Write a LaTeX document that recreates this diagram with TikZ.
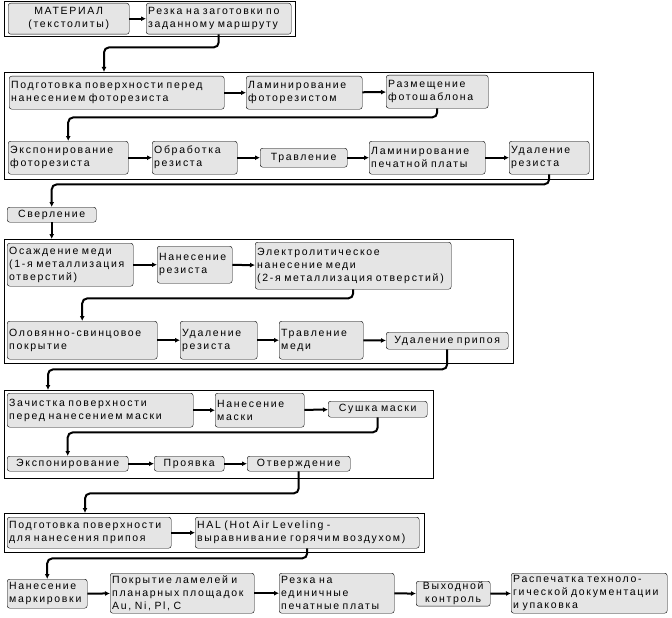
\documentclass[tikz,border=0pt]{standalone}
\usepackage{fontspec}
\setmainfont{Liberation Sans}[LetterSpace=16]
\usetikzlibrary{arrows.meta}

\begin{document}
\begin{tikzpicture}[
            x = 1pt, y = -1pt, % pixel grid, y goes down
            > = {Latex[length=5pt, width=5pt]}, % arrow head style
            font = \fontsize{10.5}{13}\selectfont,
            wh/.style 2 args = {text width = #1pt-4pt, minimum height = #2pt}
        ]

        \tikzstyle{frame}=[
            draw = black,
            thin,
            anchor = north west,
            inner sep = 0pt
        ]
        \tikzstyle{stage}=[
            draw = black,
            thin,
            fill = gray!20,
            rounded corners = 2.5pt,
            anchor = north west,
            align = left,
            inner xsep = 2pt,
            inner ysep = 1pt
        ]
        \tikzstyle{flow}=[
            line width = 2pt,
            rounded corners = 5pt
        ]

        \useasboundingbox (0,0) rectangle (672,618);

        % frames
        \node[frame, minimum width=291pt, minimum height=35pt] (f1) at (4,1) {};
        \node[frame, minimum width=589pt, minimum height=107pt] (f2) at (4,72) {};
        \node[frame, minimum width=509pt, minimum height=124pt] (f3) at (4,239) {};
        \node[frame, minimum width=429pt, minimum height=88pt] (f4) at (4,390) {};
        \node[frame, minimum width=420pt, minimum height=39pt] (f5) at (4,513) {};

        \coordinate (in2) at (104,72);
        \coordinate (in4) at (48,390);
        \coordinate (in5) at (85,513);

        % material
        \node[stage, wh={121}{31}, align=center] (mat) at (8,3) {МАТЕРИАЛ\\(текстолиты)};
        \node[stage, wh={145}{31}] (rez) at (146,3) {Резка на заготовки по\\заданному маршруту};

        % photoresist
        \node[stage, wh={215}{33}] (podg) at (9,76) {Подготовка поверхности перед\\нанесением фоторезиста};
        \node[stage, wh={116}{33}] (lam1) at (246,76) {Ламинирование\\фоторезистом};
        \node[stage, wh={102}{33}] (razm) at (386,75) {Размещение\\фотошаблона};
        \node[stage, wh={120}{33}] (exp1) at (8,141) {Экспонирование\\фоторезиста};
        \node[stage, wh={85}{33}] (obr) at (152,141) {Обработка\\резиста};
        \node[stage, wh={87}{19}, align=center] (trav1) at (260,148) {Травление};
        \node[stage, wh={116}{33}] (lam2) at (369,141) {Ламинирование\\печатной платы};
        \node[stage, wh={80}{33}] (ud1) at (509,141) {Удаление\\резиста};

        \node[stage, wh={89}{15}, align=center] (sverl) at (7,207) {Сверление};

        % metallization
        \node[stage, wh={126}{43}] (osazh) at (7,243) {Осаждение меди\\(1-я металлизация\\отверстий)};
        \node[stage, wh={75}{37}] (nan1) at (157,246) {Нанесение\\резиста};
        \node[stage, wh={196}{47}] (elek) at (255,242) {Электролитическое\\нанесение меди\\(2-я металлизация отверстий)};
        \node[stage, wh={150}{38}] (olov) at (7,321) {Оловянно-свинцовое\\покрытие};
        \node[stage, wh={77}{38}] (ud2) at (180,321) {Удаление\\резиста};
        \node[stage, wh={84}{38}] (trav2) at (279,321) {Травление\\меди};
        \node[stage, wh={122}{17}, align=center] (udpr) at (386,332) {Удаление припоя};

        % solder mask
        \node[stage, wh={186}{34}] (zach) at (7,393) {Зачистка поверхности\\перед нанесением маски};
        \node[stage, wh={89}{34}] (nan2) at (215,393) {Нанесение\\маски};
        \node[stage, wh={99}{16}, align=center] (sush) at (328,401) {Сушка маски};
        \node[stage, wh={121}{15}, align=center] (exp2) at (7,456) {Экспонирование};
        \node[stage, wh={70}{15}, align=center] (proyav) at (154,456) {Проявка};
        \node[stage, wh={103}{15}, align=center] (otv) at (247,456) {Отверждение};

        % solder
        \node[stage, wh={164}{31}] (podg2) at (7,517) {Подготовка поверхности\\для нанесения припоя};
        \node[stage, wh={224}{31}] (hal) at (195,517) {HAL (Hot Air Leveling -\\выравнивание горячим воздухом)};

        % final
        \node[stage, wh={80}{29}] (nanm) at (7,579) {Нанесение\\маркировки};
        \node[stage, wh={144}{40}] (pokr) at (110,573) {Покрытие ламелей и\\планарных площадок\\Au, Ni, Pl, C};
        \node[stage, wh={115}{40}] (rez2) at (279,573) {Резка на\\единичные\\печатные платы};
        \node[stage, wh={74}{23}, align=center] (vyh) at (416,581) {Выходной\\контроль};
        \node[stage, wh={156}{40}] (rasp) at (511,573) {Распечатка техноло-\\гической документации\\и упаковка};

        \path[->, flow] (mat) edge (rez);
        \path[->, flow] (podg) edge (lam1);
        \path[->, flow] (lam1) edge (razm);
        \path[->, flow] (exp1) edge (obr);
        \path[->, flow] (obr) edge (trav1);
        \path[->, flow] (trav1) edge (lam2);
        \path[->, flow] (lam2) edge (ud1);
        \path[->, flow] (osazh) edge (nan1);
        \path[->, flow] (nan1) edge (elek);
        \path[->, flow] (olov) edge (ud2);
        \path[->, flow] (ud2) edge (trav2);
        \path[->, flow] (trav2) edge (udpr);
        \path[->, flow] (zach) edge (nan2);
        \path[->, flow] (nan2) edge (sush);
        \path[->, flow] (exp2) edge (proyav);
        \path[->, flow] (proyav) edge (otv);
        \path[->, flow] (podg2) edge (hal);
        \path[->, flow] (nanm) edge (pokr);
        \path[->, flow] (pokr) edge (rez2);
        \path[->, flow] (rez2) edge (vyh);
        \path[->, flow] (vyh) edge (rasp);

        % row to row
        \draw[->, flow] (rez.south) -- ++(0,13) -| (in2);
        \draw[->, flow] (razm.south) -- ++(0,9) -| (exp1.north);
        \draw[->, flow] (ud1.south) -- ++(0,10) -| (sverl.north);
        \draw[->, flow] (sverl.south) -- (sverl.south |- f3.north);
        \draw[->, flow] (elek.south) -- ++(0,9) -| (olov.north);
        \draw[->, flow] (udpr.south) -- ++(0,20) -| (in4);
        \draw[->, flow] (sush.south) -- ++(0,15) -| (exp2.north);
        \draw[->, flow] (otv.south) -- ++(0,22) -| (in5);
        \draw[->, flow] (hal.south) -- ++(0,10) -| (nanm.north);

    \end{tikzpicture}
\end{document}
